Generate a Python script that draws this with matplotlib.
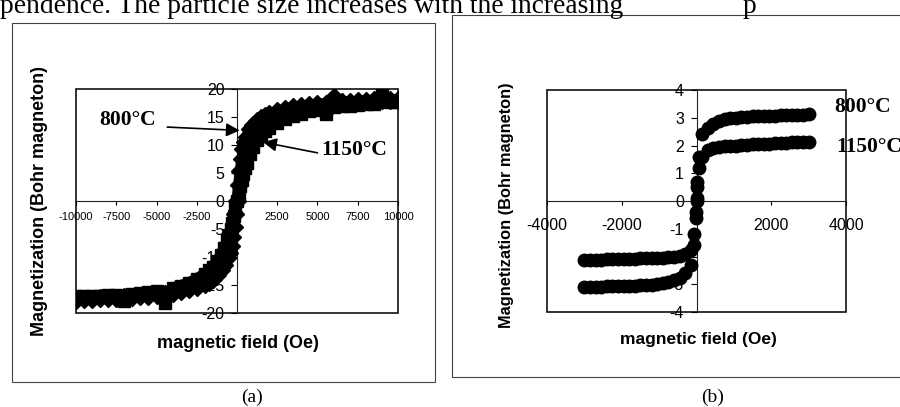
import matplotlib
matplotlib.use("Agg")
import matplotlib.pyplot as plt
from matplotlib.patches import Rectangle

# ---------------- data: panel (a) ----------------
field_a = [-10000, -9500, -9000, -8500, -8000, -7500, -7000, -6500, -6000, -5500,
           -5000, -4500, -4000, -3500, -3000, -2500, -2000, -1750, -1500, -1250,
           -1000, -800, -600, -500, -400, -300, -200, -100, 0, 100,
           200, 300, 400, 500, 600, 800, 1000, 1250, 1500, 1750,
           2000, 2500, 3000, 3500, 4000, 4500, 5000, 5500, 6000, 6500,
           7000, 7500, 8000, 8500, 9000, 9500, 10000]
mag_a_800 = [-17.6, -17.5, -17.5, -17.4, -17.3, -17.3, -17.2, -17.1, -17.0, -16.9,
             -16.8, -16.6, -16.4, -16.1, -15.8, -15.3, -14.8, -14.4, -13.9, -13.2,
             -12.4, -11.4, -10.1, -9.2, -8.0, -6.5, -4.6, -2.4, 0.0, 2.8,
             5.3, 7.5, 9.3, 10.6, 11.5, 12.8, 13.6, 14.3, 14.8, 15.2,
             15.5, 16.0, 16.4, 16.7, 16.9, 17.1, 17.3, 17.4, 18.6, 17.6,
             17.7, 17.8, 17.9, 18.0, 18.0, 18.1, 18.1]
mag_a_1150 = [-17.0, -17.0, -16.9, -16.9, -16.8, -16.7, -17.9, -16.6, -16.5, -16.3,
              -16.1, -18.2, -15.5, -15.1, -14.6, -13.9, -13.0, -12.4, -11.7, -10.8,
              -9.6, -8.4, -6.9, -6.0, -5.0, -3.9, -2.7, -1.4, 0.0, 1.3,
              2.6, 3.8, 4.9, 5.9, 6.8, 8.4, 9.7, 10.9, 11.8, 12.5,
              13.1, 14.0, 14.7, 15.2, 15.6, 16.0, 16.3, 15.6, 16.7, 16.9,
              17.0, 17.2, 17.3, 17.4, 19.3, 17.6, 17.7]
xticks_a = [-10000, -7500, -5000, -2500, 0, 2500, 5000, 7500, 10000]
xticklabels_a = ["-10000", "-7500", "-5000", "-2500", "", "2500", "5000", "7500", "10000"]
yticks_a = [-20, -15, -10, -5, 0, 5, 10, 15, 20]

# ---------------- data: panel (b) ----------------
field_b = [-3000, -2850, -2700, -2550, -2400, -2250, -2100, -1950, -1800, -1650,
           -1500, -1350, -1200, -1050, -900, -750, -600, -450, -300, -150,
           -75, -25, 0, 25, 75, 150, 300, 450, 600, 750,
           900, 1050, 1200, 1350, 1500, 1650, 1800, 1950, 2100, 2250,
           2400, 2550, 2700, 2850, 3000]
mag_b_800 = [-3.10, -3.10, -3.09, -3.09, -3.08, -3.08, -3.07, -3.06, -3.06, -3.05,
             -3.04, -3.03, -3.01, -2.99, -2.96, -2.92, -2.86, -2.76, -2.58, -2.30,
             -1.60, -0.60, 0.10, 0.70, 1.60, 2.40, 2.62, 2.78, 2.88, 2.94,
             2.98, 3.00, 3.02, 3.03, 3.05, 3.06, 3.07, 3.08, 3.08, 3.09,
             3.10, 3.10, 3.11, 3.11, 3.12]
mag_b_1150 = [-2.12, -2.12, -2.11, -2.11, -2.10, -2.10, -2.09, -2.09, -2.08, -2.08,
              -2.07, -2.07, -2.06, -2.05, -2.04, -2.02, -2.00, -1.97, -1.92, -1.78,
              -1.20, -0.40, 0.00, 0.50, 1.20, 1.60, 1.85, 1.90, 1.94, 1.97,
              1.99, 2.00, 2.02, 2.03, 2.04, 2.05, 2.06, 2.07, 2.08, 2.09,
              2.10, 2.11, 2.12, 2.13, 2.14]
xticks_b = [-4000, -2000, 0, 2000, 4000]
xticklabels_b = ["-4000", "-2000", "", "2000", "4000"]
yticks_b = [-4, -3, -2, -1, 0, 1, 2, 3, 4]

SANS = "Liberation Sans"
SERIF = "Liberation Serif"

W, H = 900, 407
fig = plt.figure(figsize=(9, 4.07), dpi=100)
fig.patch.set_facecolor("white")


def px_axes(l, t, r, b):
    return [l / W, 1 - b / H, (r - l) / W, (b - t) / H]


def style_axes(ax, xt, xtl, yt, xfs, yfs, xpad, ypad):
    for s in ["top", "right"]:
        ax.spines[s].set_visible(False)
    ax.spines["left"].set_position(("data", 0))
    ax.spines["bottom"].set_position(("data", 0))
    for s in ["left", "bottom"]:
        ax.spines[s].set_linewidth(0.8)
        ax.spines[s].set_color("#222222")
    ax.add_patch(Rectangle((0, 0), 1, 1, transform=ax.transAxes, fill=False,
                           lw=1.2, ec="#111111", clip_on=False, zorder=1))
    ax.set_xticks(xt)
    ax.set_xticklabels(xtl, fontsize=xfs, family=SANS)
    ax.set_yticks(yt)
    ax.set_yticklabels([str(v) for v in yt], fontsize=yfs, family=SANS)
    ax.tick_params(axis="x", direction="out", length=3, width=0.8, pad=xpad)
    ax.tick_params(axis="y", direction="out", length=4, width=0.8, pad=ypad)


# ---------------- panel (a) ----------------
axa = fig.add_axes(px_axes(76, 89, 398, 313))
axa.set_xlim(-10000, 10000)
axa.set_ylim(-20, 20)
style_axes(axa, xticks_a, xticklabels_a, yticks_a, 8, 11.5, 5, 5)
axa.plot(field_a, mag_a_800, color="black", lw=8, marker="D", ms=9, zorder=3)
axa.plot(field_a, mag_a_1150, color="black", lw=8, marker="s", ms=9, zorder=3)

axa.text(-0.112, 0.50, "Magnetization (Bohr magneton)", transform=axa.transAxes,
         rotation=90, ha="center", va="center", fontsize=13, fontweight="bold", family=SANS)
axa.text(0.503, -0.134, "magnetic field (Oe)", transform=axa.transAxes,
         ha="center", va="center", fontsize=13, fontweight="bold", family=SANS)

axa.text(-6770, 14.5, "800°C", ha="center", va="center", fontsize=15.5,
         fontweight="bold", family=SERIF)
axa.annotate("", xy=(165, 12.6), xytext=(-4330, 13.2),
             arrowprops=dict(arrowstyle="-|>", mutation_scale=20, lw=1.2, color="black",
                             shrinkA=0, shrinkB=0))
axa.text(7270, 9.1, "1150°C", ha="center", va="center", fontsize=15.5,
         fontweight="bold", family=SERIF)
axa.annotate("", xy=(1620, 10.5), xytext=(5000, 8.6),
             arrowprops=dict(arrowstyle="-|>", mutation_scale=20, lw=1.2, color="black",
                             shrinkA=0, shrinkB=0))

# ---------------- panel (b) ----------------
axb = fig.add_axes(px_axes(547, 90, 846, 312))
axb.set_xlim(-4000, 4000)
axb.set_ylim(-4, 4)
style_axes(axb, xticks_b, xticklabels_b, yticks_b, 11.5, 11.5, 9, 5)
axb.plot(field_b, mag_b_800, "o", color="black", ms=9, zorder=3)
axb.plot(field_b, mag_b_1150, "o", color="black", ms=9, zorder=3)

axb.text(-0.137, 0.482, "Magnetization (Bohr magneton)", transform=axb.transAxes,
         rotation=90, ha="center", va="center", fontsize=11.8, fontweight="bold", family=SANS)
axb.text(0.505, -0.126, "magnetic field (Oe)", transform=axb.transAxes,
         ha="center", va="center", fontsize=12.5, fontweight="bold", family=SANS)
axb.text(3680, 3.39, "800°C", ha="left", va="center", fontsize=15.5,
         fontweight="bold", family=SERIF, clip_on=False)
axb.text(3730, 1.95, "1150°C", ha="left", va="center", fontsize=15.5,
         fontweight="bold", family=SERIF, clip_on=False)

# ---------------- panel frames, captions, page text ----------------
fig.add_artist(Rectangle((12 / W, 1 - 382 / H), 423 / W, 359 / H, transform=fig.transFigure,
                         fill=False, lw=0.8, ec="#444444"))
fig.add_artist(Rectangle((452 / W, 1 - 377 / H), 460 / W, 362 / H, transform=fig.transFigure,
                         fill=False, lw=0.8, ec="#444444"))
fig.text(252 / W, 1 - 397 / H, "(a)", ha="center", va="center", fontsize=14, family=SERIF)
fig.text(713 / W, 1 - 397 / H, "(b)", ha="center", va="center", fontsize=14, family=SERIF)
fig.text(0 / W, 1 - 13 / H, "pendence. The particle size increases with the increasing",
         ha="left", va="baseline", fontsize=19.8, family=SERIF)
fig.text(743 / W, 1 - 13 / H, "p", ha="left", va="baseline", fontsize=19.8, family=SERIF)

fig.savefig("out.png", dpi=100, facecolor="white")
